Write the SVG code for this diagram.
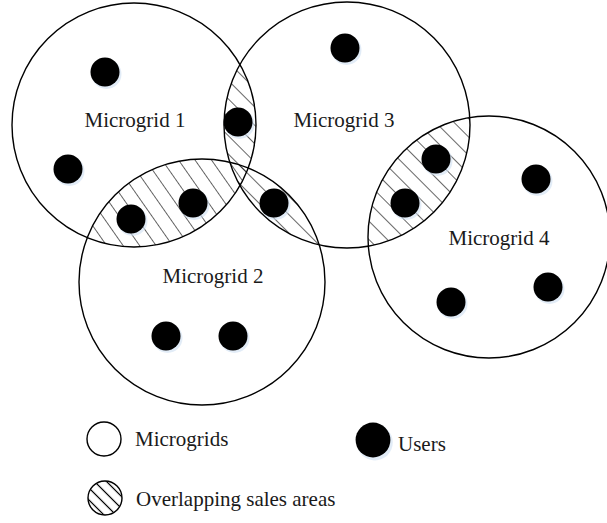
<svg xmlns="http://www.w3.org/2000/svg" width="607" height="523" viewBox="0 0 607 523">
  <style>
    .grid { fill: none; stroke: #000; stroke-width: 1.4; }
    .user { fill: #000; }
    .halo { fill: #cfe0f2; opacity: 0.6; }
    .label { font-family: "Liberation Serif", "Times New Roman", serif; font-size: 21px; fill: #1a1a1a; }
    .mid { text-anchor: middle; }
    .hline { stroke: #000; stroke-width: 1.2; }
  </style>
  <defs>
    <!-- diagonal hatch, 45 degrees -->
    <pattern id="hatch" patternUnits="userSpaceOnUse" width="13" height="13" patternTransform="rotate(-45)">
      <line class="hline" x1="0" y1="-1" x2="0" y2="14"/>
    </pattern>
    <!-- steeper hatch for the lower-left lens -->
    <pattern id="hatchSteep" patternUnits="userSpaceOnUse" width="13.5" height="13.5" patternTransform="rotate(-35)">
      <line class="hline" x1="0" y1="-1" x2="0" y2="15"/>
    </pattern>
    <!-- finer hatch for the legend swatch -->
    <pattern id="hatchFine" patternUnits="userSpaceOnUse" width="8.5" height="8.5" patternTransform="translate(105 498) rotate(-45)">
      <line class="hline" x1="4.25" y1="-1" x2="4.25" y2="10"/>
    </pattern>
    <clipPath id="c1"><circle cx="134" cy="125" r="122"/></clipPath>
    <clipPath id="c2"><circle cx="202" cy="282" r="123"/></clipPath>
    <clipPath id="c3"><circle cx="347" cy="125" r="123"/></clipPath>
    <clipPath id="c4"><circle cx="489" cy="237" r="121"/></clipPath>
    <clipPath id="legendHatch"><circle cx="105" cy="498" r="17"/></clipPath>
    <g id="dot">
      <circle class="halo" cx="1.5" cy="2" r="15"/>
      <circle class="user" cx="0" cy="0" r="14.5"/>
    </g>
  </defs>

  <rect width="607" height="523" fill="#fff"/>

  <!-- shared sales areas: hatched lenses where two microgrids overlap -->
  <g id="overlaps">
    <g clip-path="url(#c1)"><rect clip-path="url(#c2)" x="0" y="0" width="607" height="523" fill="url(#hatchSteep)"/></g>
    <g clip-path="url(#c1)"><rect clip-path="url(#c3)" x="0" y="0" width="607" height="523" fill="url(#hatch)"/></g>
    <g clip-path="url(#c2)"><rect clip-path="url(#c3)" x="0" y="0" width="607" height="523" fill="url(#hatch)"/></g>
    <g clip-path="url(#c3)"><rect clip-path="url(#c4)" x="0" y="0" width="607" height="523" fill="url(#hatch)"/></g>
  </g>

  <g id="microgrid-1">
    <circle class="grid" cx="134" cy="125" r="122"/>
    <text class="label mid" x="135" y="127">Microgrid 1</text>
  </g>
  <g id="microgrid-2">
    <circle class="grid" cx="202" cy="282" r="123"/>
    <text class="label mid" x="213" y="283">Microgrid 2</text>
  </g>
  <g id="microgrid-3">
    <circle class="grid" cx="347" cy="125" r="123"/>
    <text class="label mid" x="344" y="127">Microgrid 3</text>
  </g>
  <g id="microgrid-4">
    <circle class="grid" cx="489" cy="237" r="121"/>
    <text class="label mid" x="499" y="245">Microgrid 4</text>
  </g>

  <g id="users">
    <use href="#dot" x="105" y="72"/>
    <use href="#dot" x="68" y="169"/>
    <use href="#dot" x="238" y="122"/>
    <use href="#dot" x="131" y="219"/>
    <use href="#dot" x="193" y="203"/>
    <use href="#dot" x="274" y="203"/>
    <use href="#dot" x="345" y="48"/>
    <use href="#dot" x="436" y="159"/>
    <use href="#dot" x="405" y="203"/>
    <use href="#dot" x="536" y="179"/>
    <use href="#dot" x="548" y="287"/>
    <use href="#dot" x="451" y="302"/>
    <use href="#dot" x="166" y="336"/>
    <use href="#dot" x="233" y="336"/>
  </g>

  <g id="connectors"/>

  <g id="legend">
    <g id="legend-microgrids">
      <circle class="grid" cx="104" cy="439" r="17"/>
      <text class="label" x="135" y="446">Microgrids</text>
    </g>
    <g id="legend-users">
      <use href="#dot" x="373" y="440" transform="translate(373 440) scale(1.2) translate(-373 -440)"/>
      <text class="label" x="398" y="451">Users</text>
    </g>
    <g id="legend-overlap">
      <rect clip-path="url(#legendHatch)" x="80" y="475" width="50" height="50" fill="url(#hatchFine)"/>
      <circle class="grid" cx="105" cy="498" r="17"/>
      <text class="label" x="136" y="506">Overlapping sales areas</text>
    </g>
  </g>
</svg>
